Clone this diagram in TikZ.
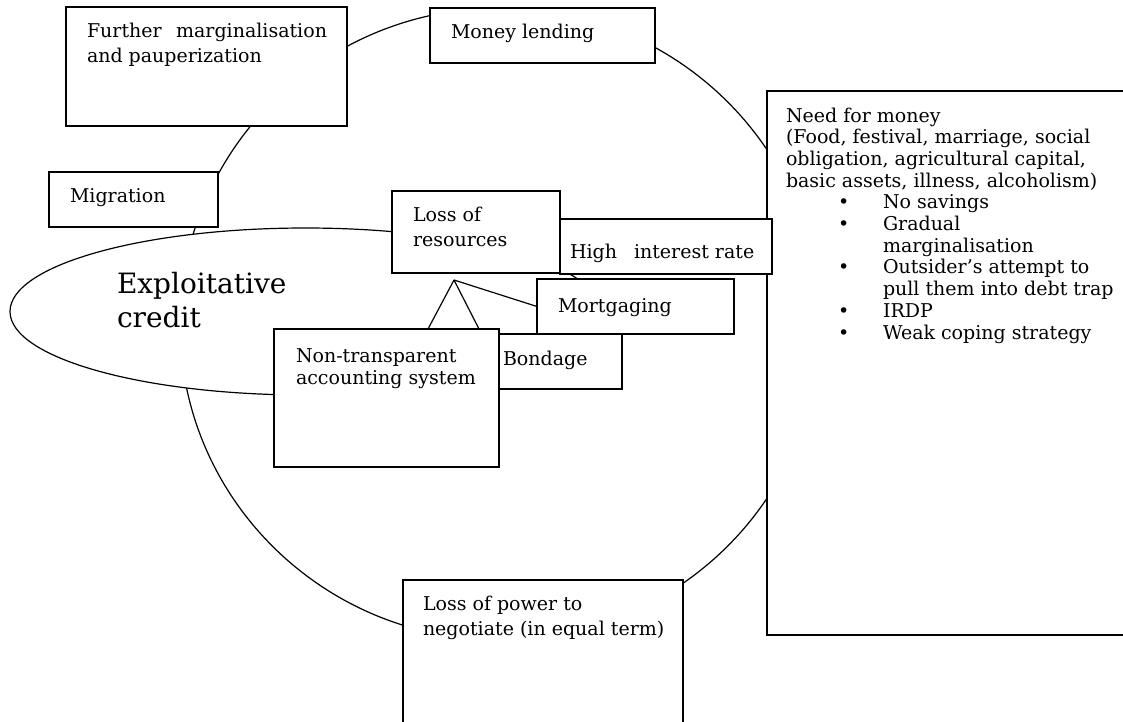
\documentclass[tikz,border=0pt]{standalone}
\usepackage{fontspec}
\setmainfont{DejaVu Serif}
\usetikzlibrary{shapes.geometric}
\newcommand\boxtxt[3]{\parbox[t]{#1}{\fontsize{19}{#2}\selectfont\raggedright #3}}
\begin{document}
\begin{tikzpicture}[x=1pt,y=-1pt,
  box/.style={draw,fill=white,line width=1.3pt,inner sep=0pt,outer sep=0pt,anchor=north west},
  txt/.style={anchor=base west,inner sep=0pt,outer sep=0pt},
  ring/.style={ellipse,draw,line width=1.2pt,inner sep=0pt,outer sep=0pt},
  link/.style={line width=1.2pt}]
\clip (0,0) rectangle (1123,721);
\fill[white] (0,0) rectangle (1123,721);
% the cycle
\node[ring,minimum width=640,minimum height=632] (cycle) at (500,324) {};
% exploitative credit ellipse
\node[ring,fill=white,minimum width=591,minimum height=167] (expl) at (305.5,311.5) {};
\node[txt] (expltxt) at (117,293) {\parbox[t]{300pt}{\fontsize{28}{34}\selectfont Exploitative\\credit}};
% connectors inside
\coordinate (apex) at (454,280);
\coordinate (nt1) at (428,329);
\coordinate (nt2) at (479,329);
% boxes
\node[box,minimum width=281,minimum height=119] (further) at (66,7) {};
\node[box,minimum width=225,minimum height=55] (money) at (430,8) {};
\node[box,minimum width=169,minimum height=55] (migr) at (49,172) {};
\node[box,minimum width=400,minimum height=544] (need) at (767,91) {};
\node[box,minimum width=152,minimum height=55] (bond) at (470,334) {};
\node[box,minimum width=197,minimum height=55] (mort) at (537,279) {};
\node[box,minimum width=212,minimum height=55] (high) at (560,219) {};
\node[box,minimum width=168,minimum height=82] (lossres) at (392,191) {};
\node[box,minimum width=225,minimum height=138] (nontr) at (274,329) {};
\node[box,minimum width=280,minimum height=200] (losspow) at (403,580) {};
\draw[link] (apex) -- (nt1);
\draw[link] (apex) -- (nt2);
\draw[link] (apex) -- (mort.west);
% texts
\node[txt] (furthertxt) at (87,37) {\boxtxt{260pt}{25}{\makebox[240pt][s]{Further\hfill marginalisation}\\and pauperization}};
\node[txt] (moneytxt) at (451,38) {\boxtxt{200pt}{22}{Money lending}};
\node[txt] (migrtxt) at (70,202) {\boxtxt{150pt}{22}{Migration}};
\node[txt] (lossrestxt) at (413,221) {\boxtxt{150pt}{25}{Loss of\\resources}};
\node[txt] (hightxt) at (570,258) {\boxtxt{200pt}{22}{High\hspace{17pt}interest rate}};
\node[txt] (morttxt) at (558,312) {\boxtxt{170pt}{22}{Mortgaging}};
\node[txt] (bondtxt) at (503,365) {\boxtxt{120pt}{22}{Bondage}};
\node[txt] (nontrtxt) at (296,362) {\boxtxt{200pt}{22}{Non-transparent\\accounting system}};
\node[txt] (losspowtxt) at (423,610) {\boxtxt{260pt}{25}{Loss of power to\\negotiate (in equal term)}};
\node[txt] (needtxt) at (786,122) {\boxtxt{340pt}{21.7}{Need for money\\
(Food, festival, marriage, social\\
obligation, agricultural capital,\\
basic assets, illness, alcoholism)\\
\hspace*{52pt}\makebox[45pt][l]{\textbullet}No savings\\
\hspace*{52pt}\makebox[45pt][l]{\textbullet}Gradual\\
\hspace*{97pt}marginalisation\\
\hspace*{52pt}\makebox[45pt][l]{\textbullet}Outsider’s attempt to\\
\hspace*{97pt}pull them into debt trap\\
\hspace*{52pt}\makebox[45pt][l]{\textbullet}IRDP\\
\hspace*{52pt}\makebox[45pt][l]{\textbullet}Weak coping strategy}};
\end{tikzpicture}
\end{document}
